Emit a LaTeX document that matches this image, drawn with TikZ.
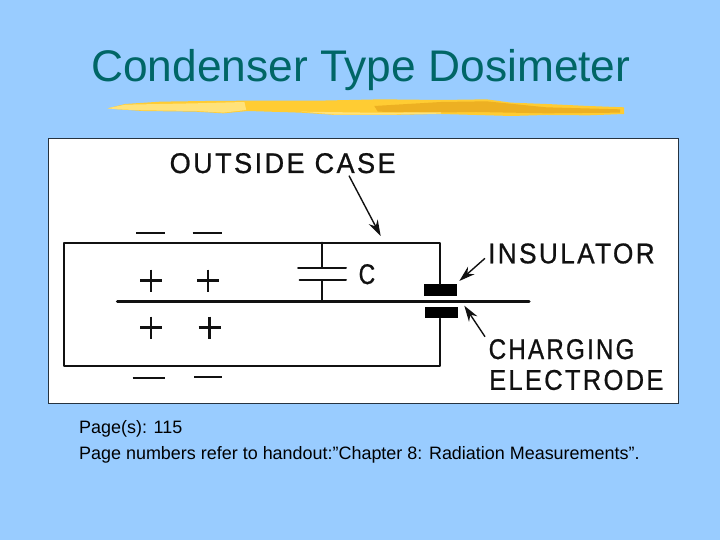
\documentclass[tikz,border=0pt]{standalone}
\usepackage{fontspec}
\setmainfont{Liberation Sans}
\newfontfamily\lab[LetterSpace=9,FakeBold=0.8]{Liberation Sans}
\usetikzlibrary{arrows.meta}
\definecolor{bgblue}{HTML}{99CCFF}
\definecolor{titleteal}{HTML}{006666}
\definecolor{brushA}{HTML}{FFCC33}
\definecolor{brushB}{HTML}{FFE27A}
\definecolor{brushC}{HTML}{EDB022}
\definecolor{inkb}{HTML}{111111}
\tikzset{
 wire/.style={draw=inkb,line width=2pt,line cap=round,line join=round},
 mainwire/.style={draw=inkb,line width=3.2pt,line cap=round},
 sign/.style={draw=inkb,line width=2.2pt},
 pointer/.style={draw=inkb,line width=1.4pt,-{Stealth[length=16pt,width=10pt]}},
 block/.style={fill=black,draw=none,inner sep=0pt,minimum width=33pt,minimum height=11.5pt},
 lbl/.style={anchor=base west,inner sep=0pt,text=inkb,font=\fontsize{28.5}{30}\selectfont\lab},
 body/.style={anchor=base west,inner sep=0pt,text=black,font=\fontsize{17.95}{20}\selectfont},
}
\begin{document}
\begin{tikzpicture}[x=1pt,y=-1pt]
\useasboundingbox (0,0) rectangle (720,540);
\fill[bgblue] (0,0) rectangle (720,540);
% title
\node[anchor=base west,inner sep=0pt,text=titleteal,font=\fontsize{44.3}{48}\selectfont] (title) at (91,81.5) {Condenser Type Dosimeter};
% brush stroke
\begin{scope}[shift={(90,30)},x=.351pt,y=-.3333pt]
\fill[brushA] (50,235) -- (100,222) -- (200,215) -- (330,213) -- (450,212) -- (650,212) -- (830,208) -- (1000,210) -- (1130,208) -- (1200,218) -- (1300,222) -- (1420,228) -- (1522,232) -- (1522,252) -- (1420,256) -- (1300,255) -- (1200,258) -- (1000,252) -- (850,255) -- (700,255) -- (600,248) -- (450,243) -- (380,250) -- (300,245) -- (150,243) -- (80,238) -- cycle;
\fill[brushB] (50,235) -- (100,224) -- (300,220) -- (440,216) -- (445,240) -- (380,248) -- (300,243) -- (150,241) -- (80,238) -- cycle;
\fill[brushC] (810,228) -- (1000,216) -- (1130,214) -- (1300,232) -- (1510,238) -- (1510,248) -- (1300,250) -- (1100,246) -- (960,248) -- (820,245) -- cycle;
\fill[brushB] (600,245) -- (800,248) -- (1000,247) -- (1000,251) -- (850,254) -- (700,254) -- cycle;
\end{scope}
% panel
\node[draw=black!75!bgblue,line width=1pt,fill=white,inner sep=0pt,minimum width=630pt,minimum height=264.5pt,anchor=north west] (panel) at (48,138) {};
% case
\coordinate (cTL) at (64,242.7);
\coordinate (cTR) at (440.3,242.7);
\coordinate (cBL) at (64,365.7);
\coordinate (cBR) at (440.3,365.7);
\node[block] (insU) at (440,290) {};
\node[block] (insL) at (441.3,312.6) {};
\draw[wire] (insU.north -| cTR) -- (cTR) -- (cTL) -- (cBL) -- (cBR) -- (insL.south -| cBR);
% centre wire
\coordinate (wA) at (117.5,301.7);
\coordinate (wB) at (529,301.7);
\draw[mainwire] (wA) -- (wB);
% capacitor
\coordinate (capTop) at (322,242.7);
\coordinate (capBot) at (322,301.7);
\coordinate (capU) at (322,267.7);
\coordinate (capL) at (322,280);
\draw[wire] (capTop) -- (capU);
\draw[wire] (capL) -- (capBot);
\draw[wire] (298,267.7) -- (346,267.7);
\draw[wire] (299.5,280) -- (346,280);
\node[lbl,xscale=.8] (clabel) at (358.5,284) {C};
% charges
\foreach \px/\py in {151/280.5,208/280.5,151/327.5,209.5/327.5}{
 \draw[sign] (\px-11,\py) -- (\px+11,\py) (\px,\py-11) -- (\px,\py+11);
}
\draw[sign] (136,232.7) -- (165,232.7);
\draw[sign] (192.5,232.7) -- (222,232.7);
\draw[sign] (132.5,377.7) -- (165,377.7);
\draw[sign] (194,377) -- (222,377);
% labels
\node[lbl,xscale=.95] (outside) at (169.5,173) {OUTSIDE CASE};
\node[lbl,xscale=.92] (insulator) at (488,263.3) {INSULATOR};
\node[lbl,xscale=.85] (charging) at (488.5,359) {CHARGING};
\node[lbl,xscale=.895] (electrode) at (489,389.8) {ELECTRODE};
% pointers
\coordinate (pa) at (349,175.7);
\coordinate (pb) at (380.7,236);
\coordinate (pc) at (485,258.3);
\coordinate (pd) at (459.3,281);
\coordinate (pe) at (485,336.7);
\coordinate (pf) at (464.3,305.7);
\draw[pointer] (pa) -- (pb);
\draw[pointer] (pc) -- (pd);
\draw[pointer] (pe) -- (pf);
% footer
\node[body] (page) at (79,433) {Page(s): 115};
\node[body] (note) at (79,459) {Page numbers refer to handout:”Chapter 8: Radiation Measurements”.};
\end{tikzpicture}
\end{document}
